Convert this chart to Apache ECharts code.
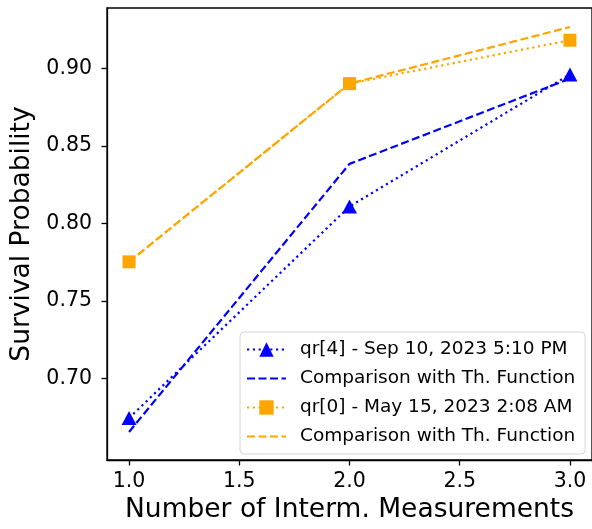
<!DOCTYPE html>
<html>
<head>
<meta charset="utf-8">
<script src="https://cdn.jsdelivr.net/npm/echarts@6/dist/echarts.min.js"></script>
<style>
  html, body { margin: 0; padding: 0; background: #fff; }
  #chart { width: 592px; height: 529px; }
</style>
</head>
<body>
<div id="chart"></div>
<script>
const xValues = [1, 2, 3]
const qr4Measured = [0.6745, 0.811, 0.8962]
const qr4Theory = [0.6655, 0.8385, 0.8935]
const qr0Measured = [0.7753, 0.8903, 0.9183]
const qr0Theory = [0.7753, 0.8903, 0.9268]
const xTicks = [1.0, 1.5, 2.0, 2.5, 3.0]
const yTicks = [0.70, 0.75, 0.80, 0.85, 0.90]
const seriesNames = [
  'qr[4] - Sep 10, 2023 5:10 PM',
  'Comparison with Th. Function',
  'qr[0] - May 15, 2023 2:08 AM',
  'Comparison with Th. Function '
]

const font = 'DejaVu Sans'
const blue = '#0000ff'
const orange = '#ffa500'

const pairs = (ys) => xValues.map((x, i) => [x, ys[i]])

// dashed (theory) lines get no marker in the legend
const legendData = seriesNames.map((name, i) =>
  i % 2 === 1 ? { name: name, itemStyle: { opacity: 0 } } : { name: name }
)

const chart = echarts.init(document.getElementById('chart'), null, { renderer: 'canvas' })
chart.setOption({
  animation: false,
  textStyle: { fontFamily: font },
  grid: {
    left: 107,
    top: 8,
    width: 489,
    height: 457,
    show: true,
    borderColor: '#000',
    borderWidth: 1.3,
    containLabel: false
  },
  legend: {
    orient: 'vertical',
    left: 240,
    top: 332,
    padding: [8, 4, 8, 6],
    itemWidth: 39,
    itemHeight: 18,
    itemGap: 10,
    backgroundColor: 'rgba(255,255,255,0.8)',
    borderColor: '#d6d6d6',
    borderWidth: 1,
    borderRadius: 4,
    textStyle: { fontFamily: font, fontSize: 18.5, color: '#000', padding: [0, 0, 0, 9] },
    data: legendData
  },
  xAxis: {
    type: 'value',
    min: 0.9,
    max: 3.1,
    name: 'Number of Interm. Measurements',
    nameLocation: 'middle',
    nameGap: 37,
    nameTextStyle: { fontFamily: font, fontSize: 26.5, color: '#000' },
    axisLine: { show: true, lineStyle: { color: '#000', width: 1.3 } },
    axisTick: { show: true, length: 5.5, lineStyle: { color: '#000', width: 1.3 }, customValues: xTicks },
    axisLabel: {
      fontFamily: font, fontSize: 20.5, color: '#000', margin: 11,
      customValues: xTicks,
      formatter: (v) => v.toFixed(1)
    },
    splitLine: { show: false }
  },
  yAxis: {
    type: 'value',
    min: 0.6474,
    max: 0.9391,
    name: 'Survival Probability',
    nameLocation: 'middle',
    nameRotate: 90,
    nameGap: 71,
    nameTextStyle: { fontFamily: font, fontSize: 26.5, color: '#000' },
    axisLine: { show: true, lineStyle: { color: '#000', width: 1.3 } },
    axisTick: { show: true, length: 5.5, lineStyle: { color: '#000', width: 1.3 }, customValues: yTicks },
    axisLabel: {
      fontFamily: font, fontSize: 20.5, color: '#000', margin: 15,
      customValues: yTicks,
      formatter: (v) => v.toFixed(2)
    },
    splitLine: { show: false }
  },
  series: [
    {
      name: seriesNames[0],
      type: 'line',
      data: pairs(qr4Measured),
      symbol: 'triangle',
      symbolSize: [15, 14],
      color: blue,
      lineStyle: { color: blue, width: 2.2, type: [2.2, 3.6] },
      z: 3
    },
    {
      name: seriesNames[1],
      type: 'line',
      data: pairs(qr4Theory),
      symbol: 'none',
      color: blue,
      lineStyle: { color: blue, width: 2.2, type: [8, 3.5] },
      z: 2
    },
    {
      name: seriesNames[2],
      type: 'line',
      data: pairs(qr0Measured),
      symbol: 'rect',
      symbolSize: 13,
      color: orange,
      lineStyle: { color: orange, width: 2.2, type: [2.2, 3.6] },
      z: 3
    },
    {
      name: seriesNames[3],
      type: 'line',
      data: pairs(qr0Theory),
      symbol: 'none',
      color: orange,
      lineStyle: { color: orange, width: 2.2, type: [8, 3.5] },
      z: 2
    }
  ]
})
</script>
</body>
</html>
